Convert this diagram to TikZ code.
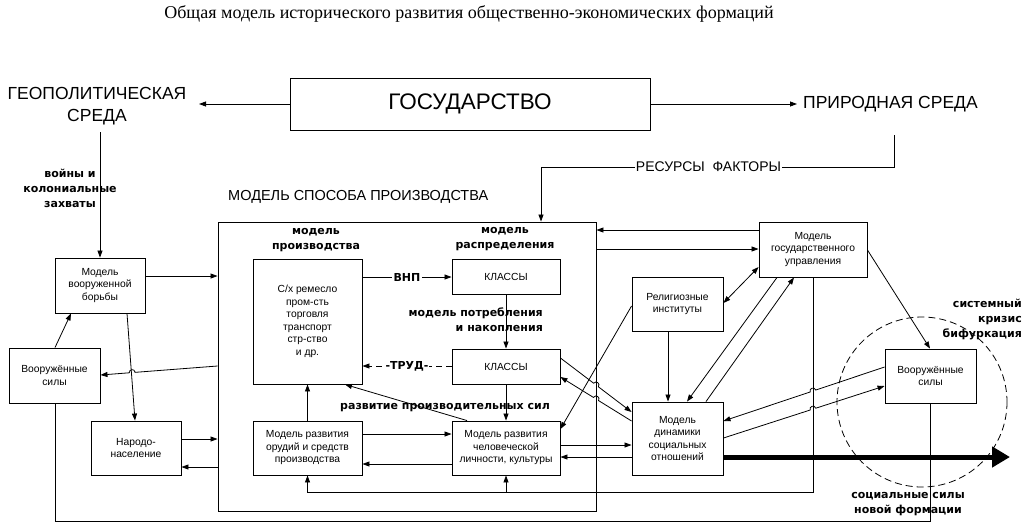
\documentclass[tikz,border=0pt]{standalone}
\usepackage{fontspec}
\setmainfont{Liberation Sans}
\newfontfamily\titlefont{Liberation Serif}
\newfontfamily\lblfont{DejaVu Sans}
\usetikzlibrary{arrows.meta,calc}
\begin{document}
\begin{tikzpicture}[x=1pt,y=-1pt,
  box/.style={draw,line width=0.9pt,inner sep=0pt,align=center,font=\fontsize{10.3}{12.5}\selectfont},
  arr/.style={-{Triangle[length=7pt,width=5pt]}},
  darr/.style={{Triangle[length=7pt,width=5pt]}-{Triangle[length=7pt,width=5pt]}},
  ln/.style={line width=0.8pt},
  lbl/.style={font=\lblfont\bfseries\fontsize{11}{15}\selectfont,align=center,inner sep=0pt},
  big/.style={font=\fontsize{17.5}{22}\selectfont,align=center,inner sep=0pt},
  hop/.style={bend left=90,looseness=1.7},
  hopr/.style={bend right=90,looseness=1.7},
]
\useasboundingbox (0,0) rectangle (1024,523);

% title
\node[font=\titlefont\fontsize{18}{20}\selectfont] (title) at (469,14) {Общая модель исторического развития общественно-экономических формаций};

% top level
\node[box,minimum width=360pt,minimum height=52pt,font=\fontsize{22.5}{27}\selectfont] (gos) at (470,104) {ГОСУДАРСТВО};
\node[big] (geo) at (97,106) {ГЕОПОЛИТИЧЕСКАЯ\\СРЕДА};
\node[big,anchor=west] (prir) at (803,104) {ПРИРОДНАЯ СРЕДА};
\node[font=\fontsize{14.5}{17}\selectfont,anchor=west,inner sep=0pt] (msp) at (228,197) {МОДЕЛЬ СПОСОБА ПРОИЗВОДСТВА};

% big box and inner boxes
\node[draw,line width=0.9pt,minimum width=378pt,minimum height=289pt,inner sep=0pt] (bigbox) at (407,366.5) {};
\node[box,minimum width=109pt,minimum height=125pt] (prod) at (307.5,321.5) {С/х ремесло\\пром-сть\\торговля\\транспорт\\стр-ство\\и др.};
\node[box,minimum width=108pt,minimum height=35pt] (kl1) at (506,276.5) {КЛАССЫ};
\node[box,minimum width=108pt,minimum height=35pt] (kl2) at (506,366.5) {КЛАССЫ};
\node[box,minimum width=109pt,minimum height=54pt] (tools) at (307.5,448) {Модель развития\\орудий и средств\\производства};
\node[box,minimum width=108pt,minimum height=54pt] (human) at (506,448) {Модель развития\\человеческой\\личности, культуры};

% left boxes
\node[box,minimum width=90pt,minimum height=55pt] (borby) at (100,285.5) {Модель\\вооруженной\\борьбы};
\node[box,minimum width=91pt,minimum height=55pt] (vsL) at (54.5,375.5) {Вооружённые\\силы};
\node[box,minimum width=90pt,minimum height=54pt] (narod) at (136,448) {Народо-\\население};

% right boxes
\node[box,minimum width=108pt,minimum height=55pt] (gosupr) at (813,249.5) {Модель\\государственного\\управления};
\node[box,minimum width=91pt,minimum height=54pt] (relig) at (677.5,304) {Религиозные\\институты};
\node[box,minimum width=91pt,minimum height=73pt] (dinam) at (677.5,438.5) {Модель\\динамики\\социальных\\отношений};
\node[box,minimum width=91pt,minimum height=54pt] (vsR) at (930.5,376) {Вооружённые\\силы};

% bold labels
\node[lbl] (lprod) at (316,240.5) {модель\\производства};
\node[lbl] (ldist) at (505,239.5) {модель\\распределения};
\node[lbl,align=right,anchor=east] (lcons) at (543,320) {модель потребления\\и накопления};
\node[lbl] (lrps) at (445,408) {развитие производительных сил};
\node[lbl] (lwar) at (70,188) {войны и\\колониальные\\захваты};
\node[lbl,align=right,anchor=east] (lcrisis) at (1022,319.5) {системный\\кризис\\бифуркация};
\node[lbl] (lsoc) at (908,504.5) {социальные силы\\новой формации};

% free-end coordinates
\coordinate (geoA) at (199,104);
\coordinate (geoB) at (100,132);
\coordinate (prirA) at (797,104);
\coordinate (resA) at (894,135);
\coordinate (thickend) at (1010,457);

% top connectors
\draw[ln,arr] (gos.west) -- (geoA);
\draw[ln,arr] (gos.east) -- (prirA);
\draw[ln,arr] (resA) -- (894,167) -- (541,167) -- (541,0 |- bigbox.north);
\node[fill=white,inner sep=1pt,font=\fontsize{14}{16}\selectfont] (res) at (708.5,167) {РЕСУРСЫ\ \ ФАКТОРЫ};
\draw[ln,arr] (geoB) -- (borby.north -| geoB);

% left connectors
\draw[ln,arr] (borby.east |- 0,276) -- (bigbox.west |- 0,276);
\draw[ln,arr] (55,0 |- vsL.north) -- (71,0 |- borby.south);
\draw[ln,arr] (127,0 |- borby.south) -- (135,0 |- narod.north);
\coordinate (p8a) at (bigbox.west |- 0,366);
\coordinate (p8b) at (vsL.east |- 0,375);
\draw[ln,arr] (p8a) -- ($(p8a)!0.704!(p8b)$) to[hopr] ($(p8a)!0.754!(p8b)$) -- (p8b);
\draw[ln,arr] (narod.east |- 0,439) -- (bigbox.west |- 0,439);
\draw[ln,arr] (bigbox.west |- 0,467) -- (narod.east |- 0,467);
\draw[ln] (55,0 |- vsL.south) -- (55,521) -- (930,521) -- (930,0 |- vsR.south);

% inner connectors
\draw[ln,arr] (prod.east |- 0,277) -- (kl1.west |- 0,277);
\node[lbl,fill=white,inner sep=1.5pt] (vnp) at (407,277) {ВНП};
\draw[ln,arr] (kl1.south) -- (kl2.north);
\draw[ln,arr,dash pattern=on 6pt off 4pt] (kl2.west |- 0,366) -- (prod.east |- 0,366);
\node[lbl,fill=white,inner sep=1pt] (trud) at (407,366) {-ТРУД-};
\draw[ln,arr] (kl2.south) -- (human.north);
\draw[ln,arr] (tools.north) -- (prod.south);
\draw[ln,arr] (467,0 |- human.north) -- (345,0 |- prod.south);
\draw[ln,arr] (tools.east |- 0,434) -- (human.west |- 0,434);
\draw[ln,arr] (human.west |- 0,464) -- (tools.east |- 0,464);
\draw[ln,arr] (gosupr.south) -- (813,492) -- (tools.south |- 0,492) -- (tools.south);
\draw[ln,arr] (human.south |- 0,492) -- (human.south);

% right connectors
\draw[ln,arr] (gosupr.west |- 0,230) -- (bigbox.east |- 0,230);
\draw[ln,arr] (bigbox.east |- 0,249) -- (gosupr.west |- 0,249);
\draw[ln,darr] (relig.east |- 0,303) -- (gosupr.west |- 0,267);
\draw[ln,arr] (668,0 |- relig.south) -- (668,0 |- dinam.north);
\draw[ln,arr] (777,0 |- gosupr.south) -- (687,0 |- dinam.north);
\draw[ln,arr] (706,0 |- dinam.north) -- (794,0 |- gosupr.south);
\draw[ln,arr] (relig.west |- 0,306) -- (human.east |- 0,429);
\coordinate (k1a) at (kl2.east |- 0,358);
\coordinate (k1b) at (dinam.west |- 0,412);
\draw[ln,arr] (k1a) -- ($(k1a)!0.467!(k1b)$) to[hop] ($(k1a)!0.533!(k1b)$) -- (k1b);
\coordinate (k2a) at (dinam.west |- 0,421);
\coordinate (k2b) at (kl2.east |- 0,377);
\draw[ln,arr] (k2a) -- ($(k2a)!0.464!(k2b)$) to[hopr] ($(k2a)!0.536!(k2b)$) -- (k2b);
\draw[ln,arr] (human.east |- 0,445) -- (dinam.west |- 0,445);
\draw[ln,arr] (dinam.west |- 0,457) -- (human.east |- 0,457);
\draw[ln,arr] (gosupr.east |- 0,250) -- (930,0 |- vsR.north);
\coordinate (v1a) at (vsR.west |- 0,367);
\coordinate (v1b) at (dinam.east |- 0,421);
\draw[ln,arr] (v1a) -- ($(v1a)!0.427!(v1b)$) to[hopr] ($(v1a)!0.462!(v1b)$) -- (v1b);
\coordinate (v2a) at (dinam.east |- 0,438);
\coordinate (v2b) at (vsR.west |- 0,386);
\draw[ln,arr] (v2a) -- ($(v2a)!0.538!(v2b)$) to[hop] ($(v2a)!0.573!(v2b)$) -- (v2b);
\draw[line width=5pt,-{Triangle[length=18pt,width=20pt]}] (dinam.east |- 0,457) -- (thickend);
\draw[ln,dash pattern=on 7pt off 4pt] (922,402) circle[radius=85];
\end{tikzpicture}
\end{document}
